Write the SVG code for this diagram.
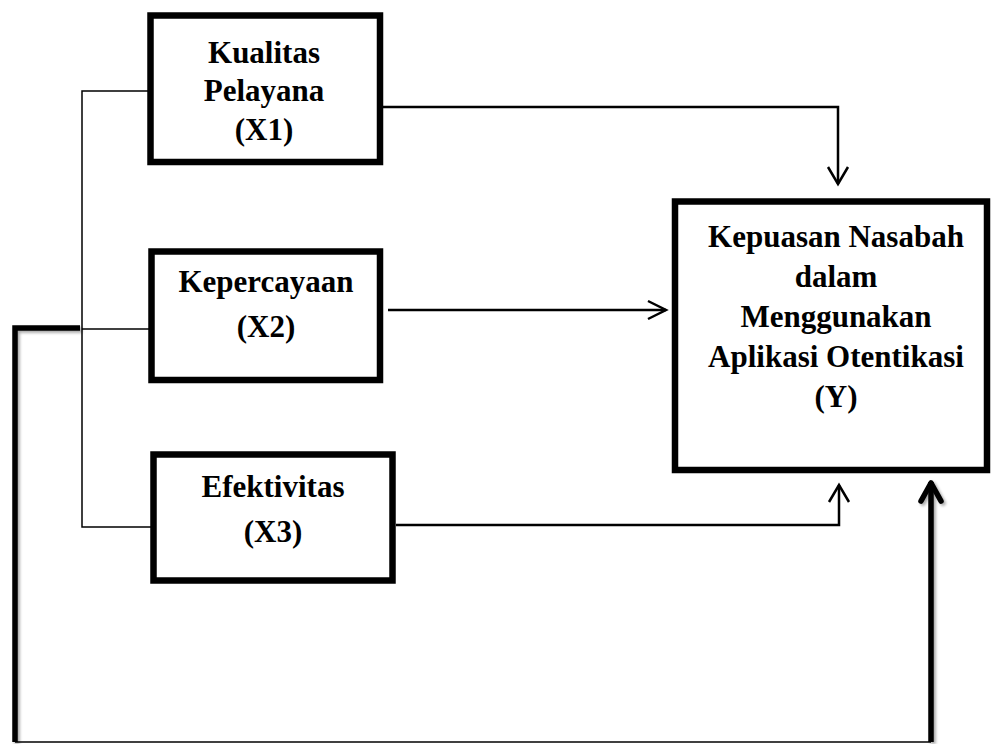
<svg xmlns="http://www.w3.org/2000/svg" width="992" height="744" viewBox="0 0 992 744">
<defs>
<style>
.box{fill:#fff;stroke:#000;stroke-width:6.5}
.lbl{font-family:"Liberation Serif","Times New Roman",serif;font-weight:bold;font-size:31px;fill:#000;text-anchor:middle}
.thin{fill:none;stroke:#000;stroke-width:1.5}
.arr{fill:none;stroke:#000;stroke-width:2.5}
.thick{fill:none;stroke:#000;stroke-width:5.5}
</style>
<filter id="sh" x="-20%" y="-20%" width="140%" height="140%">
<feGaussianBlur in="SourceAlpha" stdDeviation="1.5"/>
<feOffset dx="2" dy="2" result="b"/>
<feComponentTransfer><feFuncA type="linear" slope="0.35"/></feComponentTransfer>
<feMerge><feMergeNode/><feMergeNode in="SourceGraphic"/></feMerge>
</filter>
</defs>
<rect width="992" height="744" fill="#fff"/>
<g id="connectors">
<polyline class="thin" points="150,91 82,91 82,527 152,527"/>
<line class="thin" x1="82" y1="329" x2="150" y2="329"/>
<polyline class="arr" points="383,107 838,107 838,184"/>
<polyline class="arr" points="828,167 838,184 848,167"/>
<line class="arr" x1="388" y1="310" x2="666" y2="310"/>
<polyline class="arr" points="648,301 666,310 648,319"/>
<polyline class="arr" points="396,525 839,525 839,485"/>
<polyline class="arr" points="829,502 839,485 849,502"/>
<g filter="url(#sh)">
<polyline class="thick" points="80,328 15,328 15,742"/>
<line class="thick" x1="931" y1="742" x2="931" y2="482"/>
<polyline class="thick" points="921,501 931,483 941,501" stroke-linejoin="round" stroke-linecap="round"/>
</g>
<line class="thin" x1="15" y1="742" x2="931" y2="742"/>
</g>
<g id="x1">
<rect class="box" x="150.5" y="15.5" width="229.5" height="146.5"/>
<text class="lbl" x="264" y="63">Kualitas</text>
<text class="lbl" x="264" y="101">Pelayana</text>
<text class="lbl" x="264" y="140">(X1)</text>
</g>
<g id="x2">
<rect class="box" x="151.5" y="251.5" width="228.5" height="128.5"/>
<text class="lbl" x="266" y="292">Kepercayaan</text>
<text class="lbl" x="266" y="337">(X2)</text>
</g>
<g id="x3">
<rect class="box" x="153.5" y="454.5" width="239" height="126"/>
<text class="lbl" x="273" y="497">Efektivitas</text>
<text class="lbl" x="273" y="542">(X3)</text>
</g>
<g id="y">
<rect class="box" x="675" y="201.5" width="312" height="268.5"/>
<text class="lbl" x="836" y="247">Kepuasan Nasabah</text>
<text class="lbl" x="836" y="287">dalam</text>
<text class="lbl" x="836" y="327">Menggunakan</text>
<text class="lbl" x="836" y="367">Aplikasi Otentikasi</text>
<text class="lbl" x="836" y="407">(Y)</text>
</g>
</svg>
